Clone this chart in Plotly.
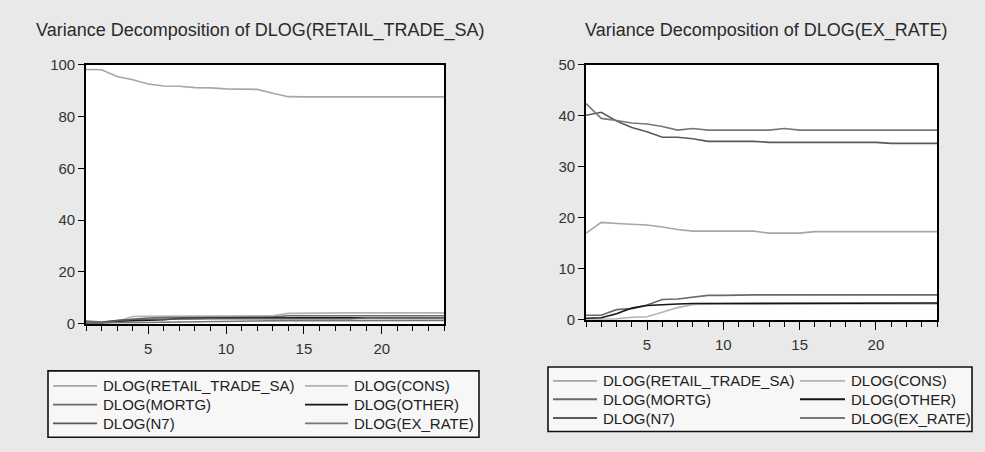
import plotly.graph_objects as go

W, H = 985, 452

periods = list(range(1, 25))
series_names = ["DLOG(RETAIL_TRADE_SA)", "DLOG(CONS)", "DLOG(MORTG)",
                "DLOG(OTHER)", "DLOG(N7)", "DLOG(EX_RATE)"]
series_colors = ["#a6a6a6", "#b3b3b3", "#6a6a6a", "#151515", "#5a5a5a", "#777777"]

# Left panel: Variance Decomposition of DLOG(RETAIL_TRADE_SA)
L_retail = [98.2, 98.1, 95.5, 94.2, 92.6, 91.8, 91.7, 91.2, 91.1, 90.7, 90.6, 90.5,
            89.0, 87.7, 87.6, 87.6, 87.6, 87.6, 87.6, 87.6, 87.6, 87.6, 87.6, 87.6]
L_cons = [0.3, 0.2, 0.8, 2.8, 2.9, 3.0, 3.0, 3.0, 3.0, 3.0, 3.0, 3.1,
          3.1, 4.0, 4.1, 4.1, 4.1, 4.2, 4.2, 4.2, 4.2, 4.2, 4.2, 4.2]
L_mortg = [1.0, 0.6, 1.2, 1.8, 2.2, 2.4, 2.5, 2.5, 2.5, 2.5, 2.5, 2.5,
           2.6, 3.1, 3.1, 3.1, 3.1, 3.1, 3.1, 3.1, 3.1, 3.1, 3.1, 3.1]
L_other = [0.1, 0.3, 1.0, 1.2, 1.3, 1.5, 2.0, 2.1, 2.2, 2.2, 2.2, 2.2,
           2.3, 2.3, 2.3, 2.3, 2.3, 2.3, 2.3, 2.3, 2.3, 2.3, 2.3, 2.3]
L_n7 = [0.2, 0.5, 1.2, 1.6, 1.7, 1.8, 1.8, 1.8, 1.9, 1.9, 1.9, 1.9,
        1.9, 1.9, 1.9, 1.9, 1.9, 1.9, 2.3, 2.3, 2.3, 2.3, 2.3, 2.3]
L_ex = [0.2, 0.3, 0.3, 0.4, 0.5, 0.7, 0.8, 0.9, 0.9, 1.0, 1.0, 1.0,
        1.1, 1.2, 1.2, 1.2, 1.2, 1.2, 1.2, 1.2, 1.3, 1.3, 1.3, 1.3]

# Right panel: Variance Decomposition of DLOG(EX_RATE)
R_retail = [17.0, 19.1, 18.9, 18.8, 18.6, 18.2, 17.7, 17.4, 17.4, 17.4, 17.4, 17.4,
            17.0, 17.0, 17.0, 17.3, 17.3, 17.3, 17.3, 17.3, 17.3, 17.3, 17.3, 17.3]
R_cons = [0.0, 0.1, 0.2, 0.5, 0.6, 1.5, 2.4, 3.0, 3.1, 3.1, 3.1, 3.1,
          3.1, 3.1, 3.1, 3.1, 3.1, 3.1, 3.1, 3.1, 3.1, 3.1, 3.1, 3.1]
R_mortg = [0.9, 0.9, 2.0, 2.2, 2.9, 4.0, 4.1, 4.5, 4.8, 4.8, 4.9, 4.9,
           4.9, 4.9, 4.9, 4.9, 4.9, 4.9, 4.9, 4.9, 4.9, 4.9, 4.9, 4.9]
R_other = [0.3, 0.4, 1.2, 2.3, 2.8, 3.0, 3.1, 3.2, 3.2, 3.2, 3.2, 3.2,
           3.3, 3.3, 3.3, 3.3, 3.3, 3.3, 3.3, 3.3, 3.3, 3.3, 3.3, 3.3]
R_n7 = [40.1, 40.7, 39.0, 37.7, 36.9, 35.8, 35.8, 35.5, 35.0, 35.0, 35.0, 35.0,
        34.8, 34.8, 34.8, 34.8, 34.8, 34.8, 34.8, 34.8, 34.6, 34.6, 34.6, 34.6]
R_ex = [42.4, 39.5, 39.1, 38.6, 38.4, 37.9, 37.2, 37.5, 37.2, 37.2, 37.2, 37.2,
        37.2, 37.5, 37.2, 37.2, 37.2, 37.2, 37.2, 37.2, 37.2, 37.2, 37.2, 37.2]

left_series = [L_retail, L_cons, L_mortg, L_other, L_n7, L_ex]
right_series = [R_retail, R_cons, R_mortg, R_other, R_n7, R_ex]

titles = ["Variance Decomposition of DLOG(RETAIL_TRADE_SA)",
          "Variance Decomposition of DLOG(EX_RATE)"]
x_ticks = [5, 10, 15, 20]

FONT = "Liberation Sans, Arial, sans-serif"
BG = "#e9e9e9"


def px(x):
    return x / W


def py(y):
    return 1 - y / H


fig = go.Figure()

for vals, name, col in zip(left_series, series_names, series_colors):
    fig.add_trace(go.Scatter(x=periods, y=vals, mode="lines", name=name,
                             line=dict(color=col, width=1.6), showlegend=False,
                             xaxis="x", yaxis="y"))
for vals, name, col in zip(right_series, series_names, series_colors):
    fig.add_trace(go.Scatter(x=periods, y=vals, mode="lines", name=name,
                             line=dict(color=col, width=1.6), showlegend=False,
                             xaxis="x2", yaxis="y2"))

xcommon = dict(range=[1, 24], tickvals=x_ticks, ticks="outside", ticklen=8,
               tickwidth=1.3, tickcolor="black", showline=True, linecolor="black",
               linewidth=1.6, mirror=True, showgrid=False, zeroline=False,
               tickfont=dict(family=FONT, size=15, color="#333333"),
               ticklabelstandoff=2,
               minor=dict(dtick=1, tick0=0, ticks="outside", ticklen=5,
                          tickwidth=1.2, tickcolor="black", showgrid=False))
ycommon = dict(ticks="outside", ticklen=6, tickwidth=1.3, tickcolor="black",
               showline=True, linecolor="black", linewidth=1.6, mirror=True,
               showgrid=False, zeroline=False,
               tickfont=dict(family=FONT, size=15, color="#333333"))

fig.update_layout(
    width=W, height=H,
    margin=dict(l=0, r=0, t=0, b=0),
    paper_bgcolor=BG, plot_bgcolor="white",
    showlegend=False,
    xaxis=dict(domain=[px(86), px(444)], anchor="y", **xcommon),
    yaxis=dict(domain=[py(327), py(58)], anchor="x", range=[0, 100], dtick=20, **ycommon),
    xaxis2=dict(domain=[px(586), px(937)], anchor="y2", **xcommon),
    yaxis2=dict(domain=[py(323), py(58)], anchor="x2", range=[0, 50], dtick=10, **ycommon),
)

shapes = []
annotations = []

# Titles
for text, cx in zip(titles, [260, 766]):
    annotations.append(dict(text=text, x=px(cx), y=py(22), xref="paper", yref="paper",
                            xanchor="center", yanchor="middle", showarrow=False,
                            font=dict(family=FONT, size=18, color="#2a2a2a")))

# Manual legends (two columns, three rows, row-major order)
legend_specs = [
    dict(box=(48, 376, 479, 445), rows=(391.5, 411, 430.5),
         col_lines=((53, 97), (305, 348))),
    dict(box=(548, 372, 972, 439), rows=(386.5, 405.5, 425),
         col_lines=((553, 597), (800, 845))),
]
for spec in legend_specs:
    x0, y0, x1, y1 = spec["box"]
    shapes.append(dict(type="rect", xref="paper", yref="paper",
                       x0=px(x0), x1=px(x1), y0=py(y1), y1=py(y0),
                       line=dict(color="#111111", width=1.6), fillcolor="#f7f7f7",
                       layer="below"))
    for i, (name, col) in enumerate(zip(series_names, series_colors)):
        r, c = divmod(i, 2)
        ly = spec["rows"][r]
        lx0, lx1 = spec["col_lines"][c]
        shapes.append(dict(type="line", xref="paper", yref="paper",
                           x0=px(lx0), x1=px(lx1), y0=py(ly), y1=py(ly),
                           line=dict(color=col, width=1.8)))
        annotations.append(dict(text=name, x=px(lx1 + 4), y=py(ly), xref="paper",
                                yref="paper", xanchor="left", yanchor="middle",
                                showarrow=False,
                                font=dict(family=FONT, size=15, color="#222222")))

fig.update_layout(shapes=shapes, annotations=annotations)
fig.write_html("out.html")
